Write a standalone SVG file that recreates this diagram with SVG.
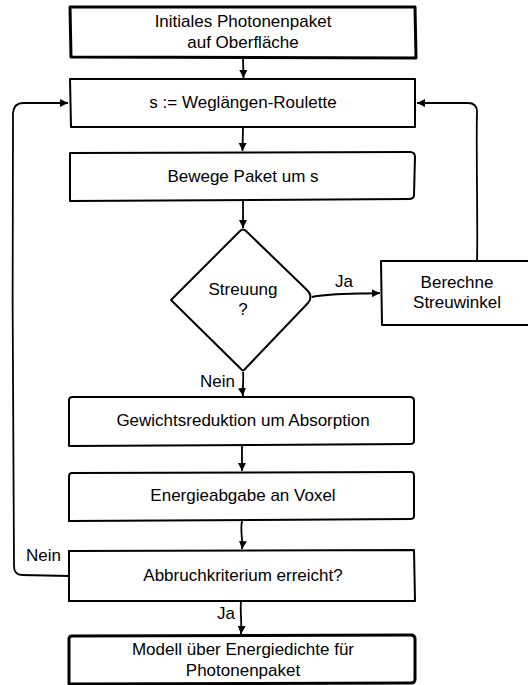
<svg xmlns="http://www.w3.org/2000/svg" width="528" height="685" viewBox="0 0 528 685">
<style>
.b{fill:#fff;stroke:#000;stroke-width:2;stroke-linejoin:round}
.t{fill:#fff;stroke:#000;stroke-width:3;stroke-linejoin:round}
.c{fill:none;stroke:#000;stroke-width:1.8;stroke-linejoin:round}
text{font-family:"Liberation Sans",Arial,sans-serif;font-size:17px;fill:#000}
.m{text-anchor:middle}
</style>
<defs>
<marker id="a" markerWidth="10" markerHeight="10" refX="8" refY="4" orient="auto" markerUnits="userSpaceOnUse">
<path d="M0,0 L8,4 L0,8 Z" fill="#000"/>
</marker>
</defs>
<rect width="528" height="685" fill="#fff"/>
<g id="connectors">
<path class="c" d="M243,58 L243.5,78" marker-end="url(#a)"/>
<path class="c" d="M243,127 L242.5,151" marker-end="url(#a)"/>
<path class="c" d="M243,201 L243,228" marker-end="url(#a)"/>
<path class="c" d="M312,297 C330,293 355,294 380,293" marker-end="url(#a)"/>
<path class="c" d="M477,261 C478,230 476,150 477,112 Q477,103 468,103 L417,103" marker-end="url(#a)"/>
<path class="c" d="M243,372 C244,380 242,388 243,396" marker-end="url(#a)"/>
<path class="c" d="M242,446 L242,471" marker-end="url(#a)"/>
<path class="c" d="M242,521 C240,530 243,540 242,549" marker-end="url(#a)"/>
<path class="c" d="M69,576 L22,575 Q14,575 14,566 C13,480 12,250 13,113 Q14,103 23,103 L68,103" marker-end="url(#a)"/>
<path class="c" d="M241,601 C240,612 242,622 241,634" marker-end="url(#a)"/>
<text x="335" y="287">Ja</text>
<text x="200" y="387">Nein</text>
<text x="26" y="561">Nein</text>
<text x="217" y="619">Ja</text>
</g>
<g id="n1">
<path class="t" d="M70,7 L415,7 L416,58 L71,57 Z"/>
<text class="m" x="243" y="27">Initiales Photonenpaket</text>
<text class="m" x="243" y="48">auf Oberfläche</text>
</g>
<g id="n2">
<path class="b" d="M70,79 L415,79 L415,127 L71,127 Z"/>
<text class="m" x="243" y="108">s := Weglängen-Roulette</text>
</g>
<g id="n3">
<path class="b" d="M70,153 L410,152 Q415,152 415,157 L414,195 Q414,199 409,199 L70,201 Z"/>
<text class="m" x="243" y="182">Bewege Paket um s</text>
</g>
<g id="n4">
<path class="b" d="M240,231 Q243,228 246,231 L308,291 Q313,297 308,303 L245,369 Q243,372 241,369 L171,300 Z"/>
<text class="m" x="243" y="295">Streuung</text>
<text class="m" x="243" y="315">?</text>
</g>
<g id="n5">
<path class="b" d="M381,261 L530,261 L530,325 L382,325 Z"/>
<text class="m" x="457" y="288">Berechne</text>
<text class="m" x="457" y="308">Streuwinkel</text>
</g>
<g id="n6">
<path class="b" d="M73,397 L410,397 Q414,397 414,401 L414,441 Q414,444 410,444 L69,446 L69,400 Q69,397 73,397 Z"/>
<text class="m" x="243" y="426">Gewichtsreduktion um Absorption</text>
</g>
<g id="n7">
<path class="b" d="M72,473 L411,472 Q414,472 414,476 L414,516 Q414,519 410,519 L69,521 L69,477 Q69,473 72,473 Z"/>
<text class="m" x="243" y="501">Energieabgabe an Voxel</text>
</g>
<g id="n8">
<path class="b" d="M69,551 L414,550 L415,601 L69,601 Z"/>
<text class="m" x="243" y="581">Abbruchkriterium erreicht?</text>
</g>
<g id="n9">
<path class="t" d="M72,636 L411,635 Q415,635 415,639 L415,679 Q415,683 411,683 L69,684 L69,639 Q69,636 72,636 Z"/>
<text class="m" x="243" y="655">Modell über Energiedichte für</text>
<text class="m" x="243" y="676">Photonenpaket</text>
</g>
</svg>
